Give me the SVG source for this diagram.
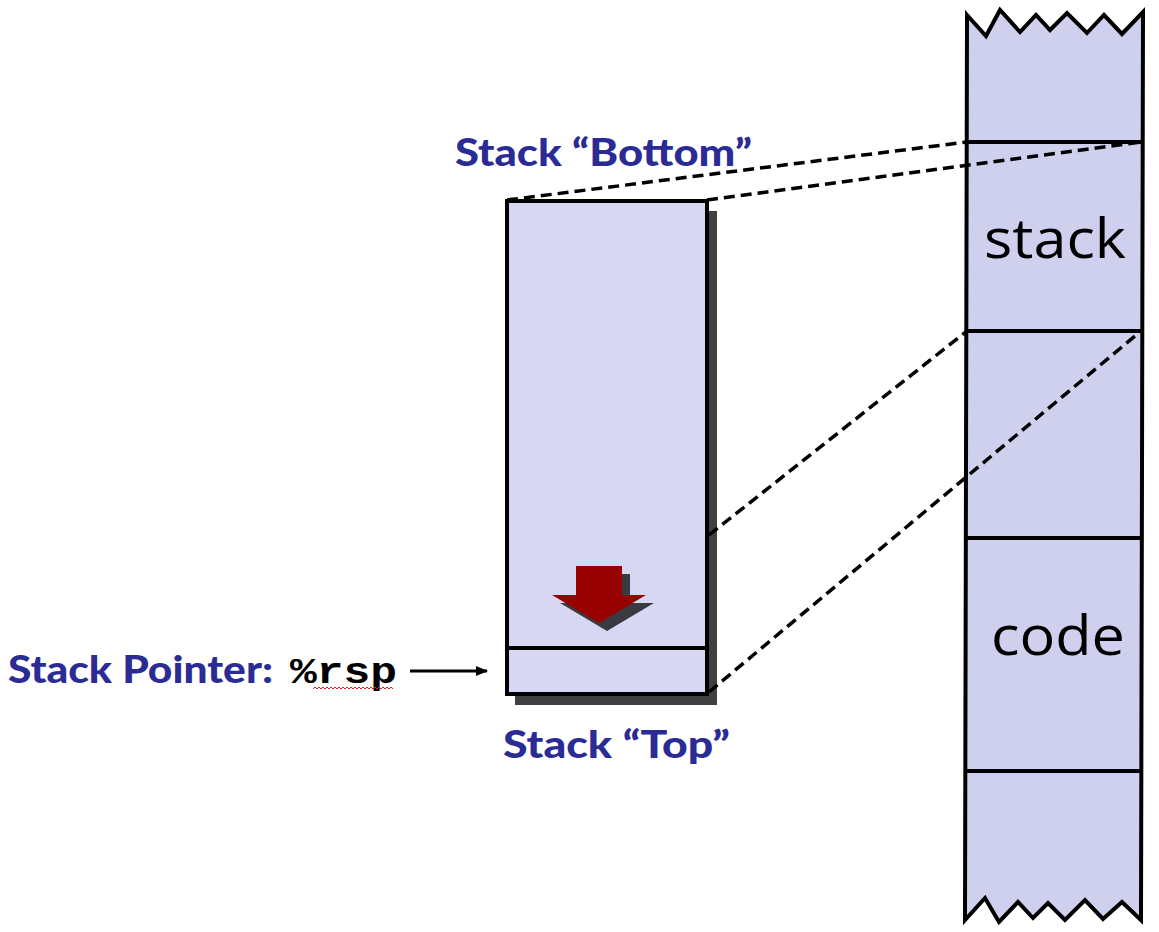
<svg xmlns="http://www.w3.org/2000/svg" width="1159" height="932" viewBox="0 0 1159 932">
<style>
.lbl{font-family:Lato,"Open Sans",sans-serif;font-weight:900;fill:#2B2B96;font-size:37px}
.mem{font-family:"Open Sans",Lato,sans-serif;fill:#000;font-size:54px}
.dash{stroke:#000;stroke-width:3.5;stroke-dasharray:11,6;fill:none}
.edge{stroke:#000;stroke-width:4;fill:none}
</style>
<defs>
<marker id="ah" markerWidth="12" markerHeight="10" refX="11" refY="5" orient="auto" markerUnits="userSpaceOnUse">
<path d="M0,0 L12,5 L0,10 Z" fill="#000"/>
</marker>
</defs>
<rect width="1159" height="932" fill="#fff"/>
<g id="memory">
<path d="M967,15 L986,36 L1000,10 L1020,32 L1036,15 L1050,30 L1067,13 L1087,33 L1104,15 L1122,34 L1143,12 L1141,920 L1122,902 L1103,919 L1085,900 L1065,920 L1048,903 L1033,918 L1018,902 L999,922 L985,898 L965,920 Z" fill="#CFD0EE" stroke="#000" stroke-width="4" stroke-linejoin="miter"/>
<line class="edge" x1="967" y1="142" x2="1141" y2="142"/>
<line class="edge" x1="967" y1="331" x2="1141" y2="331"/>
<line class="edge" x1="967" y1="538" x2="1141" y2="538"/>
<line class="edge" x1="967" y1="771" x2="1141" y2="771"/>
<text class="mem" x="1055" y="258" text-anchor="middle" textLength="142" lengthAdjust="spacingAndGlyphs">stack</text>
<text class="mem" x="1058" y="655" text-anchor="middle" textLength="134" lengthAdjust="spacingAndGlyphs">code</text>
</g>
<g id="stackbox">
<rect x="515" y="211" width="202" height="494" fill="#404040"/>
<rect x="507" y="201" width="200" height="493" fill="#D7D7F4" stroke="#000" stroke-width="4"/>
<line class="edge" x1="507" y1="648" x2="707" y2="648"/>
<g id="growth-arrow">
<path d="M584,574 L630,574 L630,603 L654,603 L607,631 L560,603 L584,603 Z" fill="#3A3A40"/>
<path d="M576,566 L622,566 L622,595 L646,595 L599,623 L552,595 L576,595 Z" fill="#990000"/>
</g>
</g>
<g id="connectors">
<line class="dash" x1="507" y1="200" x2="967" y2="142"/>
<line class="dash" x1="707" y1="200" x2="1141" y2="142"/>
<line class="dash" x1="709" y1="535" x2="967" y2="331"/>
<line class="dash" x1="709" y1="692" x2="1141" y2="331"/>
<line x1="410" y1="671" x2="487" y2="671" stroke="#000" stroke-width="3" marker-end="url(#ah)"/>
</g>
<g id="labels">
<text class="lbl" x="455" y="166" textLength="297" lengthAdjust="spacingAndGlyphs">Stack “Bottom”</text>
<text class="lbl" x="503" y="758" textLength="227" lengthAdjust="spacingAndGlyphs">Stack “Top”</text>
<text class="lbl" x="8" y="683" textLength="265" lengthAdjust="spacingAndGlyphs">Stack Pointer:</text>
<text x="290" y="683" font-family="'Liberation Mono',monospace" font-weight="bold" font-size="36" fill="#000" textLength="107" lengthAdjust="spacingAndGlyphs">%rsp</text>
<path d="M313,689 l2,-2 l2,2 l2,-2 l2,2 l2,-2 l2,2 l2,-2 l2,2 l2,-2 l2,2 l2,-2 l2,2 l2,-2 l2,2 l2,-2 l2,2 l2,-2 l2,2 l2,-2 l2,2 l2,-2 l2,2 l2,-2 l2,2 l2,-2 l2,2 l2,-2 l2,2 l2,-2 l2,2 l2,-2 l2,2 l2,-2 l2,2 l2,-2 l2,2 l2,-2 l2,2 l2,-2 l2,2" fill="none" stroke="#E02020" stroke-width="1"/>
</g>
</svg>
